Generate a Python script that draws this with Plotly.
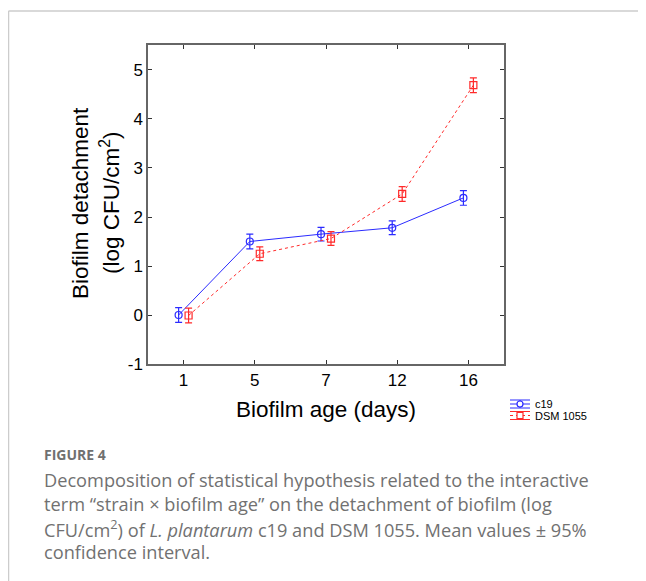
import plotly.graph_objects as go

days = ["1", "5", "7", "12", "16"]
c19_mean = [0.00, 1.50, 1.65, 1.78, 2.39]
c19_err = [0.15, 0.15, 0.14, 0.14, 0.15]
dsm_mean = [-0.01, 1.25, 1.56, 2.47, 4.69]
dsm_err = [0.15, 0.14, 0.14, 0.15, 0.15]
yticks = [-1, 0, 1, 2, 3, 4, 5]
ytick_text = ["-1", "0", "1", "2", "3", "4", "5"]
series_names = ["c19", "DSM 1055"]

BLUE = "#2b2bff"
RED = "#ff2a2a"

# page body has an 8px margin; work in reference-screen pixels and subtract it
OFF = 8
W, H = 646 - OFF, 581 - OFF
L, R, T, B = 148, 504, 45, 364  # plot frame in screen pixels


def px_x(x):
    return (x - L) / (R - L)


def px_y(y):
    return (B - y) / (B - T)


fig = go.Figure()
fig.add_trace(go.Scatter(
    x=days, y=c19_mean, name=series_names[0], mode="lines+markers", showlegend=False,
    line=dict(color=BLUE, width=1),
    marker=dict(symbol="circle-open", size=7, color=BLUE, line=dict(width=1.2)),
    error_y=dict(type="data", array=c19_err, visible=True, color=BLUE, thickness=1.2, width=3.5),
))
fig.add_trace(go.Scatter(
    x=days, y=dsm_mean, name=series_names[1], mode="lines+markers", showlegend=False,
    line=dict(color=RED, width=1, dash="dot"),
    marker=dict(symbol="square-open", size=7, color=RED, line=dict(width=1.2)),
    error_y=dict(type="data", array=dsm_err, visible=True, color=RED, thickness=1.2, width=3.5),
))

axis_font = dict(family="Liberation Sans, Arial", size=17, color="black")
title_font = dict(family="Liberation Sans, Arial", size=22.5, color="black")
fig.update_xaxes(
    type="category", categoryorder="array", categoryarray=days,
    range=[-0.5, 4.5], showline=True, mirror="ticks", linecolor="#666", linewidth=1.5,
    ticks="inside", ticklen=4, tickcolor="#333", showgrid=False, zeroline=False,
    tickfont=axis_font,
    title=dict(text="Biofilm age (days)", font=title_font, standoff=12),
)
fig.update_yaxes(
    range=[-1, 5.51], tickvals=yticks, ticktext=ytick_text, showline=True, mirror="ticks",
    linecolor="#666", linewidth=1.5,
    ticks="inside", ticklen=4, tickcolor="#333", showgrid=False, zeroline=False,
    tickfont=axis_font,
)

annotations = [
    dict(text="Biofilm detachment", x=px_x(80), y=px_y(203), xref="paper", yref="paper",
         textangle=-90, showarrow=False, font=title_font, xanchor="center", yanchor="middle"),
    dict(text="(log CFU/cm<sup>2</sup>)", x=px_x(110), y=px_y(203), xref="paper", yref="paper",
         textangle=-90, showarrow=False, font=title_font, xanchor="center", yanchor="middle"),
    dict(text="<b>FIGURE 4</b>", x=px_x(42), y=px_y(454), xref="paper", yref="paper",
         showarrow=False, xanchor="left", yanchor="middle",
         font=dict(family="Open Sans", size=14, color="#707070")),
]
caption = [
    "Decomposition of statistical hypothesis related to the interactive",
    "term \u201cstrain \u00d7 biofilm age\u201d on the detachment of biofilm (log",
    "CFU/cm<sup>2</sup>) of <i>L. plantarum</i> c19 and DSM 1055. Mean values \u00b1 95%",
    "confidence interval.",
]
for i, line in enumerate(caption):
    annotations.append(dict(text=line, x=px_x(42), y=px_y(480 + 24 * i), xref="paper", yref="paper",
                            showarrow=False, xanchor="left", yanchor="middle",
                            font=dict(family="Open Sans", size=18.2, color="#717171")))

shapes = [
    dict(type="line", xref="paper", yref="paper", x0=px_x(8.5), x1=px_x(W + 20), y0=px_y(11), y1=px_y(11),
         line=dict(color="#cccccc", width=1.5)),
    dict(type="line", xref="paper", yref="paper", x0=px_x(8.5), x1=px_x(8.5), y0=px_y(11), y1=px_y(H + 20),
         line=dict(color="#cccccc", width=1.5)),
]

# manual legend (compact, with error-bar glyph)
legend_rows = [(404, BLUE, "solid", "circle"), (415.5, RED, "dot", "square")]
gx0, gx1, gxc = 510, 530, 520
for (ry, col, dash, sym), name in zip(legend_rows, series_names):
    for dy in (-4, 4):
        shapes.append(dict(type="line", xref="paper", yref="paper", x0=px_x(gx0), x1=px_x(gx1),
                           y0=px_y(ry + dy), y1=px_y(ry + dy), line=dict(color=col, width=1)))
    shapes.append(dict(type="line", xref="paper", yref="paper", x0=px_x(gx0), x1=px_x(gx1),
                       y0=px_y(ry), y1=px_y(ry), line=dict(color=col, width=1, dash=dash)))
    shapes.append(dict(type="line", xref="paper", yref="paper", x0=px_x(gxc), x1=px_x(gxc),
                       y0=px_y(ry - 4), y1=px_y(ry + 4), line=dict(color=col, width=1)))
    shapes.append(dict(type="circle" if sym == "circle" else "rect", xref="paper", yref="paper",
                       x0=px_x(gxc - 3), x1=px_x(gxc + 3), y0=px_y(ry - 3), y1=px_y(ry + 3),
                       line=dict(color=col, width=1.2), fillcolor="white"))
    annotations.append(dict(text=name, x=px_x(533), y=px_y(ry), xref="paper", yref="paper",
                            showarrow=False, xanchor="left", yanchor="middle",
                            font=dict(family="Liberation Sans, Arial", size=11, color="black")))

fig.update_layout(
    width=W, height=H,
    margin=dict(l=L - OFF, r=W - (R - OFF), t=T - OFF, b=H - (B - OFF)),
    paper_bgcolor="white", plot_bgcolor="white",
    scattermode="group", scattergap=0.72,
    showlegend=False,
    annotations=annotations, shapes=shapes,
)

fig.write_html("out.html")
